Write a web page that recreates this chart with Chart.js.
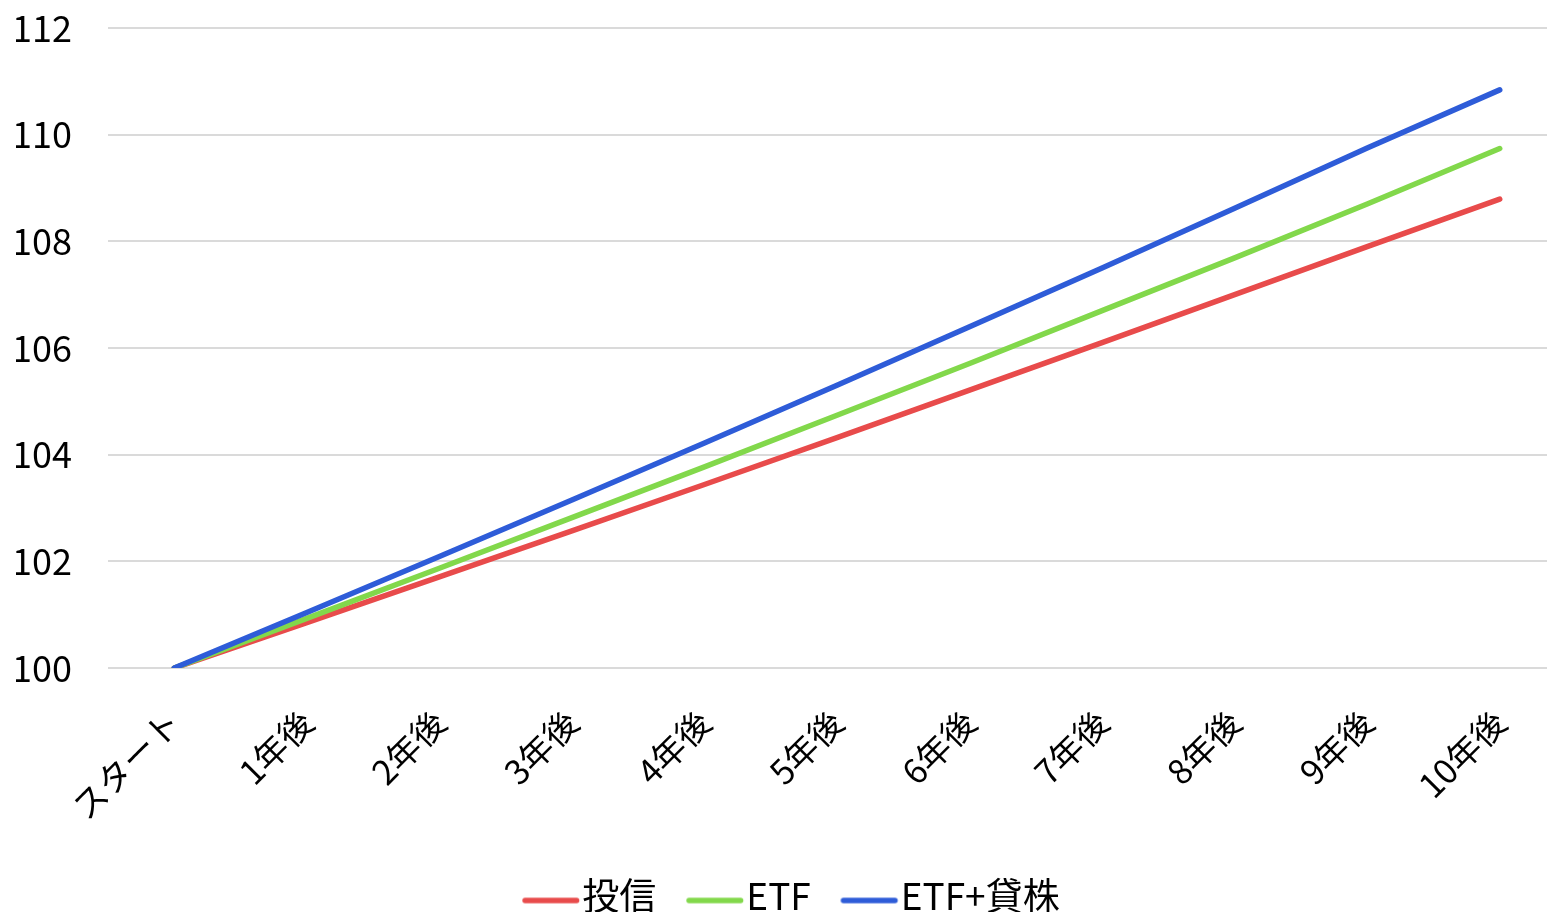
<!DOCTYPE html>
<html>
<head>
<meta charset="utf-8">
<script src="https://cdn.jsdelivr.net/npm/chart.js@4.4.0/dist/chart.umd.min.js"></script>
<style>
  html, body { margin: 0; padding: 0; background: #fff; overflow: hidden; }
  #wrap { width: 1566px; height: 912px; }
</style>
</head>
<body>
<div id="wrap"><canvas id="chart"></canvas></div>
<script>
const labels = ['スタート', '1年後', '2年後', '3年後', '4年後', '5年後', '6年後', '7年後', '8年後', '9年後', '10年後'];
const toushin = [100, 100.85, 101.71, 102.57, 103.44, 104.32, 105.21, 106.10, 107.00, 107.90, 108.79];
const etf = [100, 100.93, 101.87, 102.82, 103.77, 104.74, 105.71, 106.70, 107.69, 108.70, 109.74];
const etfKashikabu = [100, 101.04, 102.09, 103.15, 104.22, 105.30, 106.40, 107.50, 108.62, 109.75, 110.84];
const seriesNames = ['投信', 'ETF', 'ETF+貸株'];
const yTicks = { min: 100, max: 112, step: 2 };

const FONT = "'Noto Sans CJK JP', 'Noto Sans', sans-serif";

// legend marker: a short thick line, shifted right inside its canvas so it
// runs up to the label text
function swatch(color) {
    const c = document.createElement('canvas');
    c.width = 100;
    c.height = 20;
    const g = c.getContext('2d');
    g.strokeStyle = color;
    g.lineWidth = 5.5;
    g.lineCap = 'round';
    g.beginPath();
    g.moveTo(32, 15);
    g.lineTo(83.5, 15);
    g.stroke();
    return c;
}

function makeSet(label, data, color) {
    return {
        label: label,
        data: data,
        borderColor: color,
        backgroundColor: color,
        borderWidth: 5.5,
        borderCapStyle: 'round',
        pointRadius: 0,
        pointHoverRadius: 0,
        pointStyle: swatch(color),
        tension: 0,
        fill: false,
    };
}

const ds = [
    makeSet(seriesNames[0], toushin, '#e84b4b'),
    makeSet(seriesNames[1], etf, '#82d84b'),
    makeSet(seriesNames[2], etfKashikabu, '#2e5cd8'),
];
// blue drawn on top, like the original
ds[0].order = 3;
ds[1].order = 2;
ds[2].order = 1;

const ctx = document.getElementById('chart').getContext('2d');
new Chart(ctx, {
    type: 'line',
    data: { labels: labels, datasets: ds },
    options: {
        responsive: true,
        maintainAspectRatio: false,
        animation: false,
        layout: { autoPadding: false, padding: { left: 16, top: 28, right: 0, bottom: -12 } },
        plugins: {
            tooltip: { enabled: false },
            legend: {
                position: 'bottom',
                labels: {
                    usePointStyle: true,
                    pointStyleWidth: 41.5,
                    boxHeight: 8,
                    padding: 30,
                    color: '#000',
                    font: { family: FONT, size: 37 },
                    sort: (a, b) => a.datasetIndex - b.datasetIndex,
                },
            },
        },
        scales: {
            x: {
                offset: true,
                grid: { display: false, drawTicks: false },
                border: { display: false },
                ticks: {
                    color: '#000',
                    font: { family: FONT, size: 34 },
                    minRotation: 45,
                    maxRotation: 45,
                    padding: 34,
                },
                afterFit: (s) => { s.height -= 14; },
            },
            y: {
                min: yTicks.min,
                max: yTicks.max,
                grid: { color: '#dadada', lineWidth: 2, drawTicks: false },
                border: { display: false },
                ticks: {
                    stepSize: yTicks.step,
                    color: '#000',
                    font: { family: FONT, size: 36 },
                    padding: 36,
                },
                afterFit: (s) => {
                    s.width = 92;
                    s.paddingTop = 0;
                    s.paddingBottom = 0;
                },
            },
        },
    },
});
</script>
</body>
</html>
